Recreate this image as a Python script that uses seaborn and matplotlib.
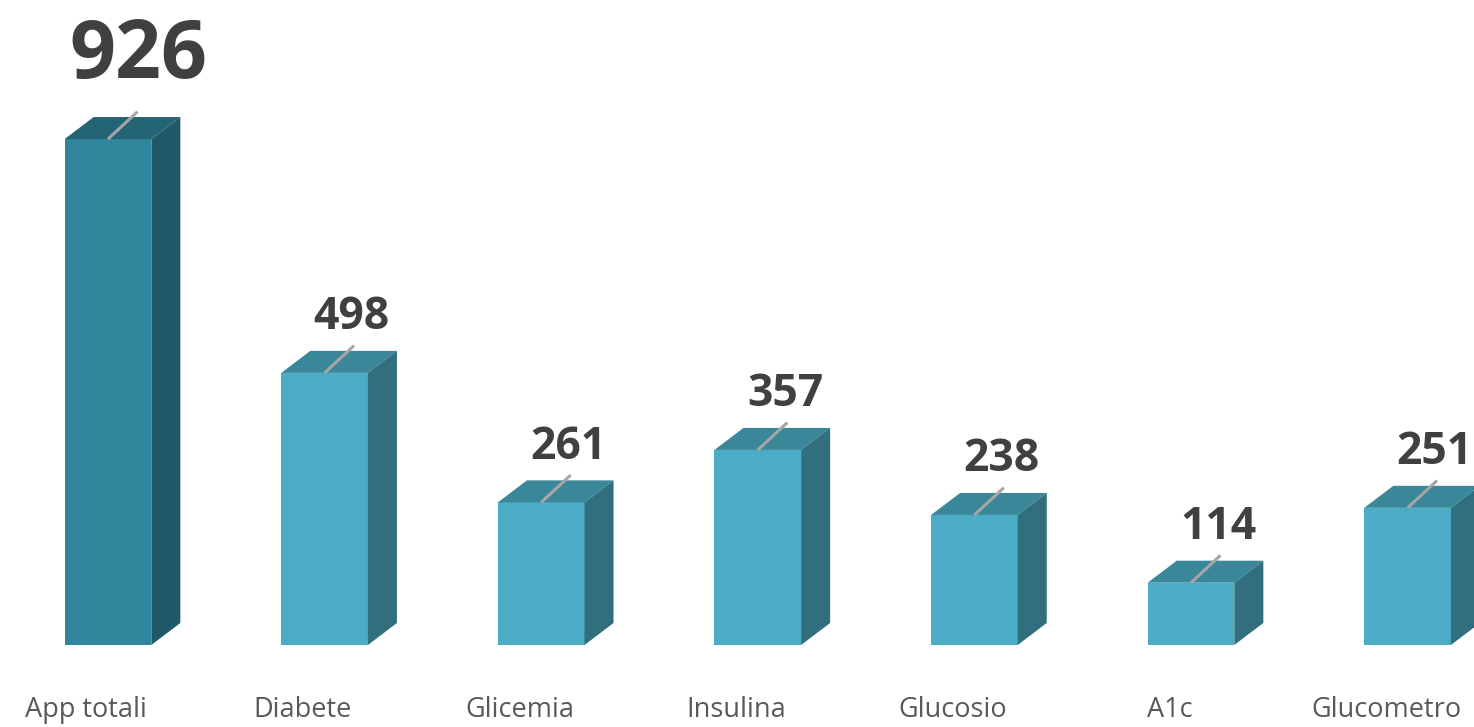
import matplotlib.pyplot as plt
import seaborn as sns
import pandas as pd
from matplotlib.patches import Polygon

# app counts by search keyword
categories = ['App totali', 'Diabete', 'Glicemia', 'Insulina', 'Glucosio', 'A1c', 'Glucometro']
counts = [926, 498, 261, 357, 238, 114, 251]

sns.set_style('white')
plt.rcParams['font.family'] = ['Open Sans', 'DejaVu Sans']

df = pd.DataFrame({'cat': categories, 'n': counts})

# first bar darker, the rest office-aqua
front = ['#31859C'] + ['#4BACC6'] * 6
side = ['#215968'] + ['#316F7F'] * 6
top = ['#246575'] + ['#3A8799'] * 6

fig = plt.figure(figsize=(14.74, 7.27), dpi=100)
ax = fig.add_axes([0, 82 / 727, 1, 645 / 727])

sns.barplot(data=df, x='cat', y='n', hue='cat', palette=front, width=0.4,
            legend=False, ax=ax, saturation=1, linewidth=0)

w = 0.4
dx, dy = 0.134, 40.3  # depth of the fake 3d box
for i, v in enumerate(counts):
    l, r = i - w / 2, i + w / 2
    ax.add_patch(Polygon([(l, v), (r, v), (r + dx, v + dy), (l + dx, v + dy)],
                         closed=True, fc=top[i], ec='none', clip_on=False, zorder=3))
    ax.add_patch(Polygon([(r, 0), (r + dx, dy), (r + dx, v + dy), (r, v)],
                         closed=True, fc=side[i], ec='none', clip_on=False, zorder=3))
    # leader line
    ax.plot([i, i + 0.136], [v, v + 50], color='#A6A6A6', lw=2.2,
            solid_capstyle='butt', zorder=4, clip_on=False)
    if i == 0:
        ax.text(i + 0.138, v + 112, str(v), ha='center', va='baseline',
                fontsize=58, fontweight='bold', color='#404040')
    else:
        ax.text(i + 0.125, v + 80, str(v), ha='center', va='baseline',
                fontsize=32, fontweight='bold', color='#404040')

ax.set_xlim(-108 / 216.6, (1474 - 108) / 216.6)
ax.set_ylim(0, 645 / 0.5464)
ax.set_xticks([i - 0.1 for i in range(len(categories))])
ax.set_xticklabels(categories, fontsize=19.5, color='#595959')
ax.tick_params(axis='x', length=0, pad=37)
ax.set_yticks([])
ax.set_xlabel('')
ax.set_ylabel('')
sns.despine(left=True, bottom=True)

fig.savefig('out.png', dpi=100)
